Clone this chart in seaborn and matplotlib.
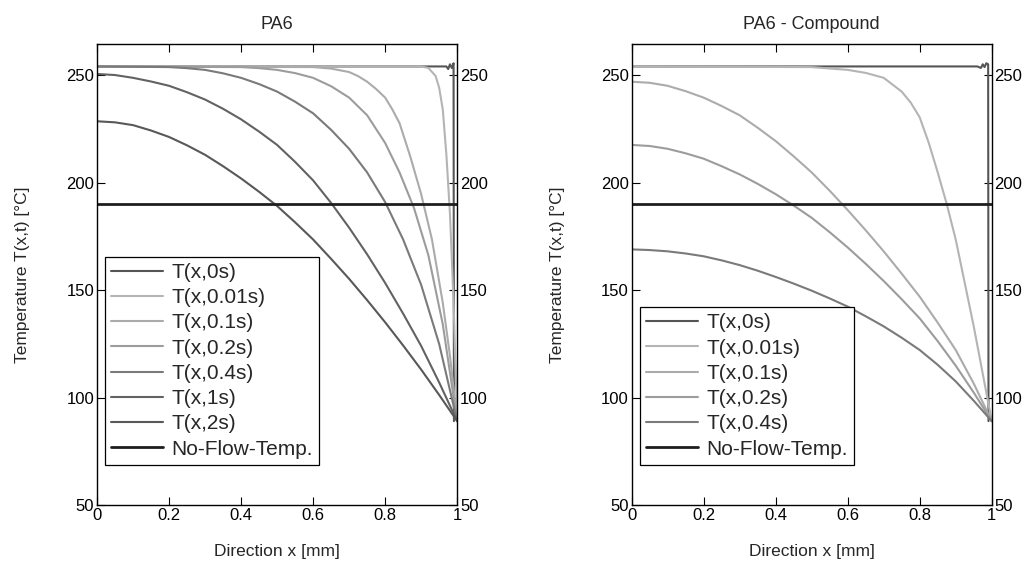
import matplotlib
matplotlib.use('Agg')
import matplotlib.pyplot as plt
import seaborn as sns

# Temperature profiles (x in mm, T in degC)
x_grid = [0, 0.05, 0.1, 0.15, 0.2, 0.25, 0.3, 0.35, 0.4, 0.45, 0.5,
          0.55, 0.6, 0.65, 0.7, 0.75, 0.8, 0.85, 0.9, 0.95, 1.0]
T_NOFLOW = 190

# PA6
pa6_x_0s = [0, 0.5, 0.97, 0.975, 0.98, 0.985, 0.99, 0.991]
pa6_t_0s = [254, 254, 254, 252.8, 255, 253.3, 255.5, 89]
pa6_x_001s = [0, 0.9, 0.92, 0.94, 0.95, 0.96, 0.97, 0.98, 0.99, 1.0]
pa6_t_001s = [254, 254, 253.3, 249.6, 244.1, 234, 213, 185.4, 144.1, 89]
pa6_x_01s = [0, 0.6, 0.65, 0.7, 0.725, 0.75, 0.775, 0.8, 0.82, 0.84, 0.87,
             0.9, 0.93, 0.96, 0.98, 1.0]
pa6_t_01s = [254, 253.7, 253, 251.4, 249.5, 246.9, 243.5, 239.5, 234, 227.6,
             212, 194.6, 173.5, 144.1, 119.4, 89]
pa6_x_02s = [0, 0.4, 0.45, 0.5, 0.55, 0.6, 0.65, 0.7, 0.75, 0.8, 0.84, 0.88,
             0.92, 0.96, 1.0]
pa6_t_02s = [254, 253.7, 253.2, 252.4, 250.9, 248.7, 244.8, 239.5, 231.3,
             218.4, 204.7, 188.2, 166.2, 134.1, 89]
pa6_x_04s = [0, 0.2, 0.25, 0.3, 0.35, 0.4, 0.45, 0.5, 0.55, 0.6, 0.65, 0.7,
             0.75, 0.8, 0.85, 0.9, 0.95, 1.0]
pa6_t_04s = [254, 253.7, 253.2, 252.4, 250.8, 248.7, 245.8, 242.3, 237.6,
             232.2, 224.5, 215.7, 204.7, 190.9, 173.5, 152.4, 124.9, 89]
pa6_t_1s = [250.5, 250, 248.7, 247, 245.0, 242, 238.6, 234.3, 229.4, 223.7,
            217.5, 209.6, 201.0, 190.5, 179.0, 166.6, 153.3, 139, 124.0, 107, 89]
pa6_t_2s = [228.5, 228, 226.7, 224.2, 221.2, 217.3, 212.9, 207.6, 201.9, 195.7,
            189.1, 181.5, 173.5, 164.5, 155.2, 145.3, 135.0, 124.2, 113.0,
            101.2, 89]

# PA6 - Compound
cmp_x_0s = [0, 0.5, 0.96, 0.97, 0.975, 0.98, 0.985, 0.99, 0.991]
cmp_t_0s = [254, 254, 254, 253.3, 255, 253.7, 255.5, 255, 89]
cmp_x_001s = [0, 0.5, 0.6, 0.65, 0.7, 0.75, 0.775, 0.8, 0.825, 0.85, 0.875,
              0.9, 0.95, 1.0]
cmp_t_001s = [254, 253.7, 252.4, 251.0, 248.7, 242.3, 237.2, 230.3, 218.5,
              204.7, 190, 173.5, 133.1, 89]
cmp_t_01s = [246.9, 246.4, 245.0, 242.5, 239.5, 235.6, 231.3, 225.5, 219.3,
             212.2, 204.7, 196.2, 187.2, 177.8, 168.0, 157.6, 146.9, 134.8,
             122.1, 106.5, 89]
cmp_t_02s = [217.5, 217, 215.7, 213.6, 211.1, 207.6, 203.8, 199.4, 194.6,
             189.3, 183.6, 176.9, 169.8, 162.2, 154.2, 145.7, 136.8, 126.2,
             114.8, 102.3, 89]
cmp_t_04s = [168.9, 168.6, 168.0, 167, 165.7, 163.8, 161.6, 159, 156.1, 153,
             149.7, 146.1, 142.3, 137.8, 133.1, 127.8, 122.1, 115.2, 107.5,
             98.5, 89]

colors = {
    'T(x,0s)': '#555555',
    'T(x,0.01s)': '#b4b4b4',
    'T(x,0.1s)': '#ababab',
    'T(x,0.2s)': '#9c9c9c',
    'T(x,0.4s)': '#7a7a7a',
    'T(x,1s)': '#626262',
    'T(x,2s)': '#585858',
}

sns.set_theme(style='ticks')
plt.rcParams['font.family'] = ['Liberation Sans', 'DejaVu Sans']

fig = plt.figure(figsize=(10.32, 5.61), dpi=100)
ax1 = fig.add_axes([0.094, 0.0998, 0.349, 0.822])
ax2 = fig.add_axes([0.612, 0.0998, 0.349, 0.822])

left = [
    ('T(x,0s)', pa6_x_0s, pa6_t_0s),
    ('T(x,0.01s)', pa6_x_001s, pa6_t_001s),
    ('T(x,0.1s)', pa6_x_01s, pa6_t_01s),
    ('T(x,0.2s)', pa6_x_02s, pa6_t_02s),
    ('T(x,0.4s)', pa6_x_04s, pa6_t_04s),
    ('T(x,1s)', x_grid, pa6_t_1s),
    ('T(x,2s)', x_grid, pa6_t_2s),
]
right = [
    ('T(x,0s)', cmp_x_0s, cmp_t_0s),
    ('T(x,0.01s)', cmp_x_001s, cmp_t_001s),
    ('T(x,0.1s)', x_grid, cmp_t_01s),
    ('T(x,0.2s)', x_grid, cmp_t_02s),
    ('T(x,0.4s)', x_grid, cmp_t_04s),
]

for ax, curves, title in [(ax1, left, 'PA6'), (ax2, right, 'PA6 - Compound')]:
    for name, xs, ts in curves:
        sns.lineplot(x=xs, y=ts, ax=ax, color=colors[name], lw=1.5,
                     label=name, sort=False, estimator=None)
    ax.axhline(T_NOFLOW, color='#1e1e1e', lw=2.0, label='No-Flow-Temp.')

    ax.set_xlim(0, 1)
    ax.set_ylim(50, 264.5)
    ax.set_xticks([0, 0.2, 0.4, 0.6, 0.8, 1])
    ax.set_xticklabels(['0', '0.2', '0.4', '0.6', '0.8', '1'])
    ax.set_yticks([50, 100, 150, 200, 250])
    ax.tick_params(direction='in', top=True, right=True, labelright=True,
                   labelsize=12, length=6, width=0.8, colors='black', pad=2)
    for sp in ax.spines.values():
        sp.set_visible(True)
        sp.set_color('black')
        sp.set_linewidth(1.0)

    ax.set_title(title, fontsize=13, pad=11)
    ax.set_xlabel('Direction x [mm]', fontsize=12.5, labelpad=15)
    ax.set_ylabel('Temperature T(x,t) [°C]', fontsize=12.5, labelpad=26)

    leg = ax.legend(loc='lower left', bbox_to_anchor=(0.022, 0.087),
                    fontsize=15, handlelength=2.5, handletextpad=0.4,
                    labelspacing=0.3, borderpad=0.3, borderaxespad=0,
                    fancybox=False, framealpha=1, edgecolor='black')
    leg.get_frame().set_linewidth(0.9)

fig.savefig('out.png', dpi=100)
